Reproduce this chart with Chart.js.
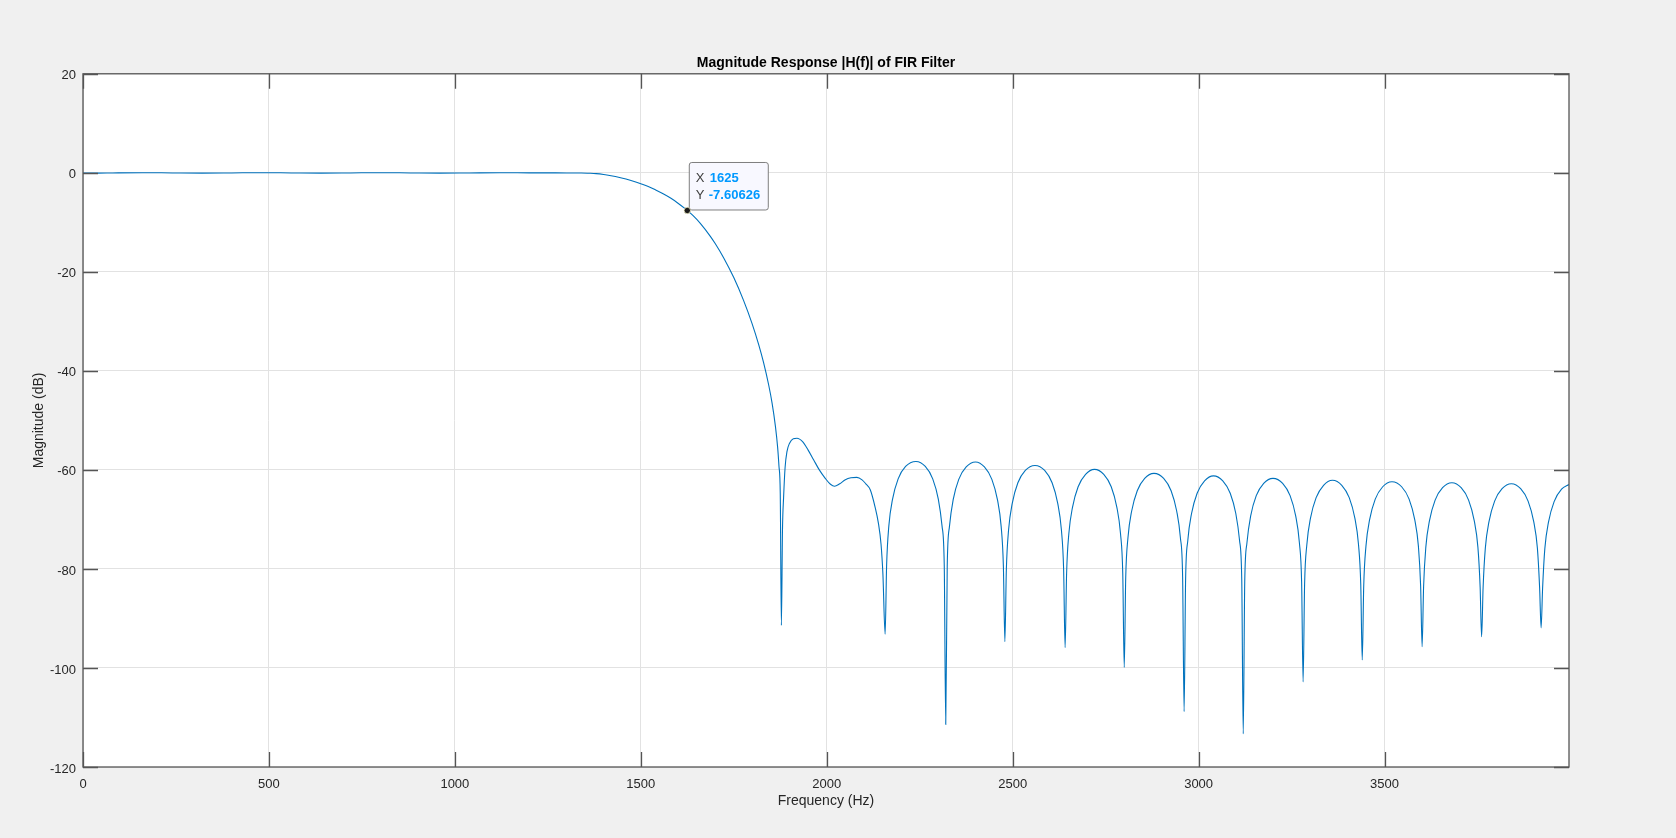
<!DOCTYPE html>
<html><head><meta charset="utf-8">
<script src="https://cdn.jsdelivr.net/npm/chart.js@4.4.0/dist/chart.umd.min.js"></script>
<style>html,body{margin:0;padding:0;background:#f0f0f0;overflow:hidden}#wrap{width:1676px;height:838px}canvas{display:block}</style>
</head><body><div id="wrap"><canvas id="c" width="1676" height="838" style="width:1676px;height:838px"></canvas></div>
<script>
// ---- data ----
const freqHz = [
  0,40,80,160,240,320,400,480,560,640,720,800,880,960,1040,1120,1200,1260,1300,1340,1360,1380,
  1400,1420,1440,1460,1480,1500,1520,1540,1560,1580,1600,1620,1625,1640,1660,1687,1700,1723,1750,
  1776,1799,1817,1830,1844,1853,1862,1868,1871.5,1875,1878,
  1881,1884,1888,1893,1900,1910,1920,1935,1950,1965,1980,1996,2010,2021,2035,2050,2065,2081,2095,
  2105,2117,2130,2139,2146,2151,2157,
  2161,2167,2177,2192,2212,2240,2265,2285,2300,2310,2316,2320,
  2324,2330,2340,2355,2375,2400,2424,2444,2459,2469,2475,2479,
  2483,2489,2499,2514,2534,2560,2586,2606,2621,2631,2637,2641,
  2645,2651,2661,2676,2696,2720,2745,2765,2780,2790,2796,2800,
  2804,2810,2820,2835,2855,2880,2906,2926,2941,2951,2957,2961,
  2965,2971,2981,2996,3016,3040,3065,3085,3100,3110,3116,3120,
  3124,3130,3140,3155,3175,3200,3226,3246,3261,3271,3277,3281,
  3285,3291,3301,3316,3336,3360,3385,3405,3420,3430,3436,3440,
  3444,3450,3460,3475,3495,3520,3546,3566,3581,3591,3597,3601,
  3605,3611,3621,3636,3656,3681,3706,3726,3741,3751,3757,3761,
  3765,3771,3781,3796,3816,3841,3866,3886,3901,3911,3917,3921,
  3925,3931,3941,3956,3976,3996
];
const magnitudeDb = [
  -0.02,-0.06,-0.02,0.03,-0.02,-0.06,-0.02,0.03,-0.02,-0.06,-0.02,0.03,-0.02,-0.06,-0.02,0.02,0.0,-0.01,-0.02,-0.03,-0.086,-0.167,
  -0.34,-0.586,-0.877,-1.258,-1.686,-2.198,-2.754,-3.462,-4.232,-5.10,-6.13,-7.29,-7.60626,-8.6,-10.2,-12.82,-14.28,-17.18,-21.15,
  -25.7,-30.4,-34.7,-38.3,-42.9,-46.5,-51.2,-55.5,-59.2,-64.8,-91.4,
  -72.0,-65.5,-59.5,-56.3,-54.6,-53.7,-53.6,-54.3,-56.0,-58.0,-60.0,-61.7,-62.9,-63.3,-62.8,-62.0,-61.6,-61.5,-62.0,
  -62.8,-64.0,-67.5,-70.8,-75.0,-81.0,-93.2,
  -79.3,-71.3,-65.9,-61.8,-59.3,-58.3,-59.3,-61.8,-65.9,-71.3,-79.3,-111.4,
  -79.4,-71.4,-66.0,-61.9,-59.4,-58.4,-59.4,-61.9,-66.0,-71.4,-79.4,-94.7,
  -80.1,-72.1,-66.7,-62.6,-60.1,-59.1,-60.1,-62.6,-66.7,-72.1,-80.1,-95.9,
  -80.9,-72.9,-67.5,-63.4,-60.9,-59.9,-60.9,-63.4,-67.5,-72.9,-80.9,-99.9,
  -81.7,-73.7,-68.3,-64.2,-61.7,-60.7,-61.7,-64.2,-68.3,-73.7,-81.7,-108.8,
  -82.2,-74.2,-68.8,-64.7,-62.2,-61.2,-62.2,-64.7,-68.8,-74.2,-82.2,-113.3,
  -82.7,-74.7,-69.3,-65.2,-62.7,-61.7,-62.7,-65.2,-69.3,-74.7,-82.7,-102.8,
  -83.1,-75.1,-69.7,-65.6,-63.1,-62.1,-63.1,-65.6,-69.7,-75.1,-83.1,-98.4,
  -83.4,-75.4,-70.0,-65.9,-63.4,-62.4,-63.4,-65.9,-70.0,-75.4,-83.4,-95.7,
  -83.6,-75.6,-70.2,-66.1,-63.6,-62.6,-63.6,-66.1,-70.2,-75.6,-83.6,-93.7,
  -83.8,-75.8,-70.4,-66.3,-63.8,-62.8,-63.8,-66.3,-70.4,-75.8,-83.8,-91.9,
  -83.9,-75.9,-70.5,-66.4,-63.9,-62.95
];
const xTicks = [0,500,1000,1500,2000,2500,3000,3500];
const yTicks = [-120,-100,-80,-60,-40,-20,0,20];
const xRange = [0, 3996];
const yRange = [-120, 20];
const tipX = 1625;
const tipY = -7.60626;
const titleText = 'Magnitude Response |H(f)| of FIR Filter';
const xLabel = 'Frequency (Hz)';
const yLabel = 'Magnitude (dB)';

// ---- drawing ----
const FONT = '"Liberation Sans", Arial, Helvetica, sans-serif';
const TXT = '#262626';

const axesPlugin = {
  id: 'matlabAxes',
  beforeDraw(chart) {
    const {ctx, chartArea: a} = chart;
    ctx.save();
    ctx.fillStyle = '#f0f0f0';
    ctx.fillRect(0, 0, chart.width, chart.height);
    ctx.fillStyle = '#ffffff';
    ctx.fillRect(a.left, a.top, a.right - a.left, a.bottom - a.top);
    ctx.restore();
  },
  afterDraw(chart) {
    const {ctx, chartArea: a, scales: {x, y}} = chart;
    ctx.save();
    ctx.strokeStyle = '#555555';
    ctx.lineWidth = 1.3;
    ctx.strokeRect(a.left, a.top, a.right - a.left, a.bottom - a.top);
    const L = 15;
    ctx.beginPath();
    xTicks.forEach(v => {
      const px = Math.round(x.getPixelForValue(v)) + 0.5;
      ctx.moveTo(px, a.bottom); ctx.lineTo(px, a.bottom - L);
      ctx.moveTo(px, a.top); ctx.lineTo(px, a.top + L);
    });
    yTicks.forEach(v => {
      const py = Math.round(y.getPixelForValue(v)) + 0.5;
      ctx.moveTo(a.left, py); ctx.lineTo(a.left + L, py);
      ctx.moveTo(a.right, py); ctx.lineTo(a.right - L, py);
    });
    ctx.stroke();

    // data tip
    const mx = x.getPixelForValue(tipX), my = y.getPixelForValue(tipY);
    const bx = mx + 1.5, by = my - 48.5, bw = 79, bh = 47.5;
    ctx.beginPath();
    ctx.roundRect(bx + 0.5, by + 0.5, bw, bh, 2.5);
    ctx.fillStyle = '#f8f8ff';
    ctx.fill();
    ctx.strokeStyle = '#7f7f7f';
    ctx.lineWidth = 1;
    ctx.stroke();
    ctx.textBaseline = 'middle';
    ctx.textAlign = 'left';
    ctx.font = '13px ' + FONT;
    ctx.fillStyle = '#404040';
    ctx.fillText('X', bx + 7, my - 32);
    ctx.fillText('Y', bx + 7, my - 15.3);
    ctx.font = 'bold 13px ' + FONT;
    ctx.fillStyle = '#0099ff';
    ctx.fillText(String(tipX), bx + 21, my - 32);
    ctx.fillText(String(tipY), bx + 20, my - 15.3);
    ctx.beginPath();
    ctx.arc(mx, my, 3.2, 0, Math.PI * 2);
    ctx.fillStyle = '#1a1a1a';
    ctx.fill();
    ctx.strokeStyle = '#f3f0c8';
    ctx.lineWidth = 0.8;
    ctx.stroke();
    ctx.restore();
  }
};

new Chart(document.getElementById('c'), {
  type: 'line',
  data: {
    datasets: [{
      data: freqHz.map((f, i) => ({x: f, y: magnitudeDb[i]})),
      borderColor: '#0072BD',
      borderWidth: 1.1,
      pointRadius: 0,
      fill: false,
      cubicInterpolationMode: 'monotone'
    }]
  },
  options: {
    responsive: false,
    animation: false,
    devicePixelRatio: 1,
    layout: {padding: {left: 0, right: 107, top: 0, bottom: 0}},
    plugins: {
      legend: {display: false},
      tooltip: {enabled: false},
      title: {
        display: true, text: titleText, fullSize: false, color: '#000000',
        font: {family: FONT, size: 14, weight: 'bold', lineHeight: 1.2},
        padding: {top: 55, bottom: 2}
      }
    },
    scales: {
      x: {
        type: 'linear', min: xRange[0], max: xRange[1],
        afterBuildTicks: s => { s.ticks = xTicks.map(v => ({value: v})); },
        afterFit: s => { s.height = 71; },
        grid: {color: '#e2e2e2', lineWidth: 1, drawTicks: false},
        border: {display: false},
        ticks: {padding: 10, color: TXT, font: {family: FONT, size: 13}, maxRotation: 0, autoSkip: false, callback: v => String(v)},
        title: {display: true, text: xLabel, color: TXT, font: {family: FONT, size: 14, lineHeight: 1.2}, padding: {top: 0, bottom: 28}}
      },
      y: {
        type: 'linear', min: yRange[0], max: yRange[1],
        afterBuildTicks: s => { s.ticks = yTicks.map(v => ({value: v})); },
        afterFit: s => { s.width = 83; },
        grid: {color: '#e2e2e2', lineWidth: 1, drawTicks: false},
        border: {display: false},
        ticks: {padding: 7, labelOffset: 2, color: TXT, font: {family: FONT, size: 13}, autoSkip: false, callback: v => String(v)},
        title: {display: true, text: yLabel, color: TXT, font: {family: FONT, size: 14, lineHeight: 1.2}, padding: {top: 31, bottom: 0}}
      }
    }
  },
  plugins: [axesPlugin]
});
</script>
</body></html>
